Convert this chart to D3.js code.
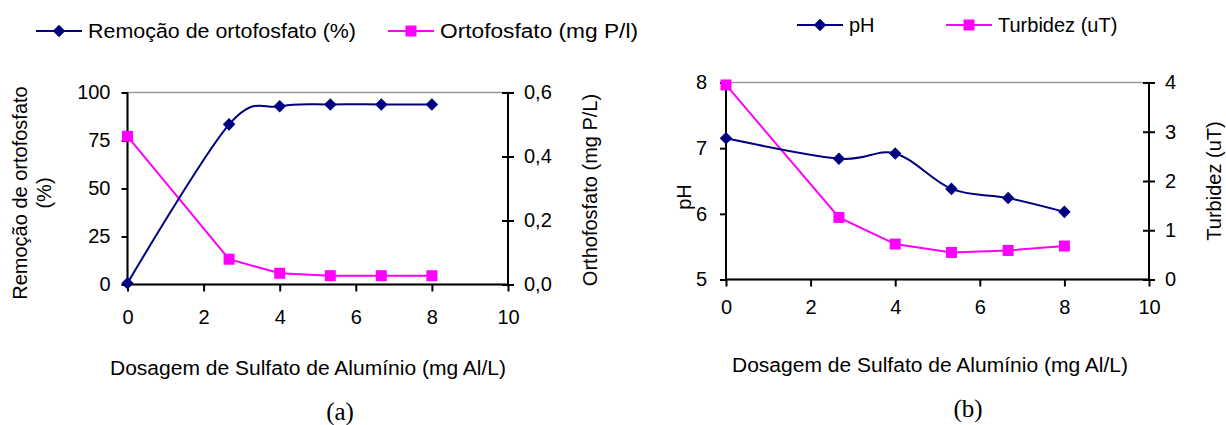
<!DOCTYPE html>
<html>
<head>
<meta charset="utf-8">
<script src="https://cdn.jsdelivr.net/npm/d3@7"></script>
<style>
  html, body { margin: 0; padding: 0; background: #fff; }
  svg { display: block; }
  text { font-family: "Liberation Sans", Arial, sans-serif; fill: #000; }
</style>
</head>
<body>
<svg id="chart" width="1226" height="425"></svg>
<script>
// Aluminium sulphate dose (mg Al/L) for each jar test
const dose = [0, 2.67, 4, 5.33, 6.67, 8];

// Panel (a)
const removalPct = [0.7, 83.4, 92.8, 93.8, 93.8, 93.8];       // Remoção de ortofosfato (%)
const orthoPhosphate = [0.463, 0.079, 0.035, 0.0275, 0.0275, 0.0275]; // mg P/L

// Panel (b)
const pH = [7.15, 6.84, 6.92, 6.38, 6.24, 6.03];
const turbidity = [3.95, 1.26, 0.72, 0.55, 0.59, 0.68];        // uT

// Tick labels
const doseTicks = [0, 2, 4, 6, 8, 10];
const removalTicks = [0, 25, 50, 75, 100];
const orthoTicks = [0, 0.2, 0.4, 0.6];
const pHTicks = [5, 6, 7, 8];
const turbTicks = [0, 1, 2, 3, 4];

const NAVY = "#000080", MAGENTA = "#ff00ff";
const svg = d3.select("#chart");
const fmtComma = d3.format(".1f");

function drawPanel(cfg) {
  const g = svg.append("g");
  const x = d3.scaleLinear().domain([0, 10]).range([cfg.left, cfg.right]);
  const yL = d3.scaleLinear().domain(cfg.leftDomain).range([cfg.bottom, cfg.top]);
  const yR = d3.scaleLinear().domain(cfg.rightDomain).range([cfg.bottom, cfg.top]);

  // plot area frame (only the top edge stays visible, in grey)
  g.append("rect")
    .attr("x", cfg.left).attr("y", yL(cfg.leftDomain[1]))
    .attr("width", cfg.right - cfg.left).attr("height", cfg.bottom - cfg.top)
    .attr("fill", "none").attr("stroke", "#9a9a9a").attr("stroke-width", 1.5);

  // bottom axis
  const ax = g.append("g").attr("transform", `translate(0,${cfg.bottom})`)
    .call(d3.axisBottom(x).tickValues(doseTicks).tickSize(7).tickPadding(cfg.xPad).tickFormat(d3.format("d")));
  // left axis
  const ayL = g.append("g").attr("transform", `translate(${cfg.left},0)`)
    .call(d3.axisLeft(yL).tickValues(cfg.leftTicks).tickSize(6).tickPadding(cfg.leftPad).tickFormat(cfg.leftFmt));
  // right axis, ticks crossing the line
  const ayR = g.append("g").attr("transform", `translate(${cfg.right},0)`)
    .call(d3.axisRight(yR).tickValues(cfg.rightTicks).tickSize(6).tickPadding(cfg.rightPad).tickFormat(cfg.rightFmt));
  ayR.selectAll(".tick line").attr("x1", -6);

  [ax, ayL, ayR].forEach(a => {
    a.select(".domain").attr("stroke", "#000").attr("stroke-width", 2);
    a.selectAll(".tick line").attr("stroke", "#000").attr("stroke-width", 2);
    a.selectAll(".tick text").style("font-size", "20px").attr("fill", "#000");
  });
  ax.select(".domain").attr("d", `M${cfg.left},0H${cfg.right}`);
  ayL.select(".domain").attr("d", `M0,${cfg.bottom}V${cfg.top}`);
  ayR.select(".domain").attr("d", `M0,${cfg.bottom}V${cfg.top}`);

  // series
  const leftLine = d3.line().x((d, i) => x(dose[i])).y(d => yL(d)).curve(d3.curveCardinal.tension(0));
  const rightLine = d3.line().x((d, i) => x(dose[i])).y(d => yR(d));

  g.append("path").datum(cfg.rightSeries).attr("d", rightLine)
    .attr("fill", "none").attr("stroke", MAGENTA).attr("stroke-width", 2);
  g.append("path").datum(cfg.leftSeries).attr("d", leftLine)
    .attr("fill", "none").attr("stroke", NAVY).attr("stroke-width", 2);

  g.selectAll(".sq").data(cfg.rightSeries).join("rect")
    .attr("x", (d, i) => x(dose[i]) - 5.5).attr("y", d => yR(d) - 5.5)
    .attr("width", 11).attr("height", 11).attr("fill", MAGENTA);
  g.selectAll(".dm").data(cfg.leftSeries).join("path")
    .attr("d", d3.symbol(d3.symbolDiamond2, 100))
    .attr("transform", (d, i) => `translate(${x(dose[i])},${yL(d)})`)
    .attr("fill", NAVY);

  // axis titles
  cfg.leftTitle.forEach(t => {
    g.append("text").attr("transform", `translate(${t.x},${t.y}) rotate(-90)`)
      .attr("text-anchor", "middle").style("font-size", "20px").text(t.text);
  });
  g.append("text").attr("transform", `translate(${cfg.rightTitle.x},${cfg.rightTitle.y}) rotate(-90)`)
    .attr("text-anchor", "middle").style("font-size", "20px").text(cfg.rightTitle.text);
  g.append("text").attr("x", cfg.xTitle.x).attr("y", cfg.xTitle.y)
    .attr("text-anchor", "middle").style("font-size", "20px")
    .attr("textLength", 396).attr("lengthAdjust", "spacingAndGlyphs")
    .text("Dosagem de Sulfato de Alumínio (mg Al/L)");
  g.append("text").attr("x", cfg.tag.x).attr("y", cfg.tag.y)
    .attr("text-anchor", "middle")
    .style("font-family", "'Liberation Serif', 'Times New Roman', serif").style("font-size", "25px")
    .text(cfg.tag.text);

  // legend
  cfg.legend.forEach(item => {
    const lg = g.append("g").attr("transform", `translate(${item.x},${cfg.legendY})`);
    lg.append("line").attr("x1", 0).attr("x2", 46).attr("y1", 0).attr("y2", 0)
      .attr("stroke", item.color).attr("stroke-width", 2);
    if (item.shape === "diamond") {
      lg.append("path").attr("d", d3.symbol(d3.symbolDiamond2, 100)).attr("transform", "translate(23,0)").attr("fill", item.color);
    } else {
      lg.append("rect").attr("x", 17.5).attr("y", -5.5).attr("width", 11).attr("height", 11).attr("fill", item.color);
    }
    const t = lg.append("text").attr("x", 52).attr("y", 0).attr("dy", "0.35em").style("font-size", "20px").text(item.label);
    if (item.width) t.attr("textLength", item.width).attr("lengthAdjust", "spacingAndGlyphs");
  });
}

drawPanel({
  left: 127.5, right: 508, top: 92.5, bottom: 284.5,
  leftDomain: [0, 100], rightDomain: [0, 0.6],
  leftTicks: removalTicks, rightTicks: orthoTicks,
  leftFmt: d3.format("d"), rightFmt: d => fmtComma(d).replace(".", ","),
  xPad: 18, leftPad: 11, rightPad: 10,
  leftSeries: removalPct, rightSeries: orthoPhosphate,
  leftTitle: [{ text: "Remoção de ortofosfato", x: 27, y: 193 }, { text: "(%)", x: 51, y: 193 }],
  rightTitle: { text: "Orthofosfato (mg P/L)", x: 597, y: 190 },
  xTitle: { x: 308, y: 375 }, tag: { text: "(a)", x: 340, y: 420 },
  legendY: 31,
  legend: [
    { x: 36, color: NAVY, shape: "diamond", label: "Remoção de ortofosfato (%)", width: 268 },
    { x: 388, color: MAGENTA, shape: "square", label: "Ortofosfato (mg P/l)", width: 198 }
  ]
});

drawPanel({
  left: 726, right: 1149, top: 82.5, bottom: 279.5,
  leftDomain: [5, 8], rightDomain: [0, 4],
  leftTicks: pHTicks, rightTicks: turbTicks,
  leftFmt: d3.format("d"), rightFmt: d3.format("d"),
  xPad: 13, leftPad: 13, rightPad: 10,
  leftSeries: pH, rightSeries: turbidity,
  leftTitle: [{ text: "pH", x: 691, y: 197 }],
  rightTitle: { text: "Turbidez (uT)", x: 1221, y: 181 },
  xTitle: { x: 930, y: 372 }, tag: { text: "(b)", x: 968, y: 417 },
  legendY: 25,
  legend: [
    { x: 797, color: NAVY, shape: "diamond", label: "pH" },
    { x: 946, color: MAGENTA, shape: "square", label: "Turbidez (uT)" }
  ]
});
</script>
</body>
</html>
